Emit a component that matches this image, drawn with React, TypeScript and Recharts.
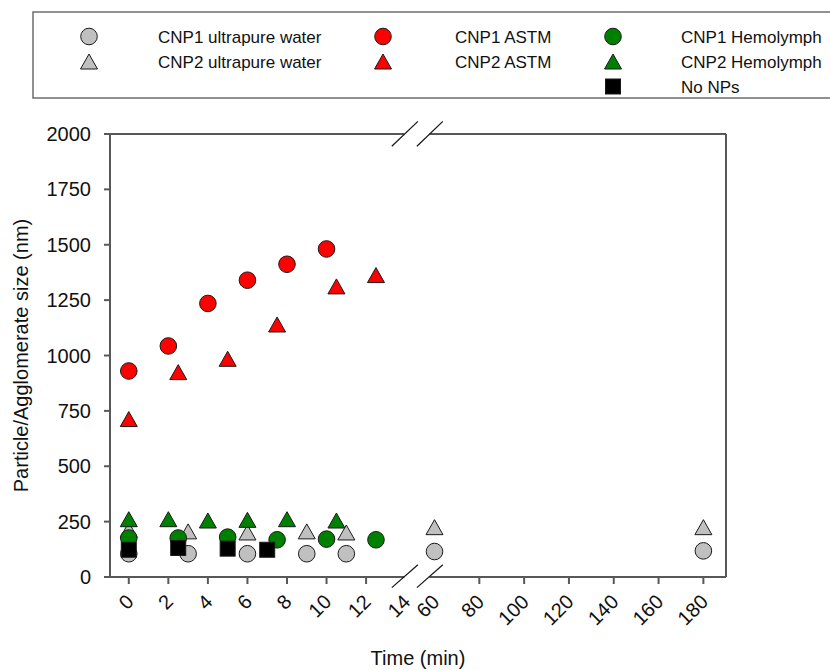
import React from 'react';
import { ScatterChart, Scatter, XAxis, YAxis, ReferenceLine, Legend, Label } from 'recharts';

// ---------- data (time in min, size in nm) ----------
const cnp1WaterTime = [0, 3, 6, 9, 11, 60, 180];
const cnp1WaterSize = [105, 105, 105, 105, 105, 115, 118];
const cnp2WaterTime = [0, 3, 6, 9, 11, 60, 180];
const cnp2WaterSize = [213, 206, 201, 206, 201, 225, 225];
const cnp1AstmTime = [0, 2, 4, 6, 8, 10];
const cnp1AstmSize = [930, 1043, 1235, 1340, 1412, 1481];
const cnp2AstmTime = [0, 2.5, 5, 7.5, 10.5, 12.5];
const cnp2AstmSize = [713, 925, 985, 1140, 1312, 1363];
const cnp1HemoTime = [0, 2.5, 5, 7.5, 10, 12.5];
const cnp1HemoSize = [176, 176, 180, 168, 171, 168];
const cnp2HemoTime = [0, 2, 4, 6, 8, 10.5];
const cnp2HemoSize = [261, 261, 255, 258, 261, 255];
const noNpsTime = [0, 2.5, 5, 7];
const noNpsSize = [123, 131, 128, 123];

const xTickLabelsLeft = [0, 2, 4, 6, 8, 10, 12, 14];
const xTickLabelsRight = [60, 80, 100, 120, 140, 160, 180];
const yTicks = [0, 250, 500, 750, 1000, 1250, 1500, 1750, 2000];

// ---------- broken axis mapping ----------
const BREAK_START = 14;
const BREAK_END = 60;
const RIGHT_OFFSET = 15.46; // virtual position of t = 60
const RIGHT_SCALE = 0.1133; // virtual units per minute on the right segment
const AXIS_MIN = -0.95;
const AXIS_MAX = 30.2;
const GAP_LEFT = 13.94;
const GAP_RIGHT = 15.2;
const toAxis = (t: number) => (t <= BREAK_START ? t : RIGHT_OFFSET + (t - BREAK_END) * RIGHT_SCALE);

const xTickLabels = [...xTickLabelsLeft, ...xTickLabelsRight];
const xTickPositions = xTickLabels.map(toAxis);

// ---------- layout ----------
const W = 830;
const H = 670;
const PLOT_LEFT = 110;
const PLOT_RIGHT = 726;
const PLOT_TOP = 134;
const PLOT_BOTTOM = 577;
const LEGEND_H = 100;
const FONT = '"Liberation Sans", Arial, Helvetica, sans-serif';
const AXIS_COLOR = '#585858';
const TEXT_COLOR = '#111';

type ShapeKind = 'circle' | 'triangle' | 'square';

const toPoints = (times: number[], sizes: number[]) =>
  times.map((t, i) => ({ x: toAxis(t), y: sizes[i] }));

const series = [
  { name: 'CNP1 ultrapure water', fill: '#c0c0c0', shape: 'circle' as ShapeKind, times: cnp1WaterTime, sizes: cnp1WaterSize, col: 0, row: 0 },
  { name: 'CNP2 ultrapure water', fill: '#c0c0c0', shape: 'triangle' as ShapeKind, times: cnp2WaterTime, sizes: cnp2WaterSize, col: 0, row: 1 },
  { name: 'CNP1 ASTM', fill: '#ff0000', shape: 'circle' as ShapeKind, times: cnp1AstmTime, sizes: cnp1AstmSize, col: 1, row: 0 },
  { name: 'CNP2 ASTM', fill: '#ff0000', shape: 'triangle' as ShapeKind, times: cnp2AstmTime, sizes: cnp2AstmSize, col: 1, row: 1 },
  { name: 'CNP1 Hemolymph', fill: '#008000', shape: 'circle' as ShapeKind, times: cnp1HemoTime, sizes: cnp1HemoSize, col: 2, row: 0 },
  { name: 'CNP2 Hemolymph', fill: '#008000', shape: 'triangle' as ShapeKind, times: cnp2HemoTime, sizes: cnp2HemoSize, col: 2, row: 1 },
  { name: 'No NPs', fill: '#000000', shape: 'square' as ShapeKind, times: noNpsTime, sizes: noNpsSize, col: 2, row: 2 },
];

const LEGEND_MARKER_X = [89, 383, 613];
const LEGEND_TEXT_X = [158, 455, 681];
const LEGEND_ROW_Y = [36.5, 61.5, 86.5];

function Marker({ cx, cy, shape, fill }: { cx: number; cy: number; shape: ShapeKind; fill: string }) {
  const stroke = '#1a1a1a';
  if (shape === 'circle') {
    return <circle cx={cx} cy={cy} r={8.3} fill={fill} stroke={stroke} strokeWidth={1} />;
  }
  if (shape === 'triangle') {
    const s = 17;
    const h = 15;
    const pts = `${cx},${cy - h / 2} ${cx + s / 2},${cy + h / 2} ${cx - s / 2},${cy + h / 2}`;
    return <polygon points={pts} fill={fill} stroke={stroke} strokeWidth={1} strokeLinejoin="miter" />;
  }
  return <rect x={cx - 7.5} y={cy - 7.5} width={15} height={15} fill={fill} stroke={stroke} strokeWidth={1} />;
}

const TimeTick = (props: any) => {
  const { x, payload } = props;
  const i = xTickPositions.findIndex((v) => Math.abs(v - payload.value) < 1e-6);
  const label = xTickLabels[i];
  const showLine = label !== BREAK_START && label !== BREAK_END;
  const ax = x + 6;
  const ay = PLOT_BOTTOM + 26;
  return (
    <g>
      {showLine && (
        <line x1={x} x2={x} y1={PLOT_BOTTOM} y2={PLOT_BOTTOM + 7} stroke={AXIS_COLOR} strokeWidth={2} />
      )}
      <text
        x={ax}
        y={ay}
        transform={`rotate(-45 ${ax} ${ay})`}
        textAnchor="end"
        fontSize={20}
        fontFamily={FONT}
        fill={TEXT_COLOR}
      >
        {label}
      </text>
    </g>
  );
};

const LegendContent = () => (
  <svg width={W} height={LEGEND_H} style={{ display: 'block' }}>
    <rect x={33} y={12} width={810} height={86} fill="#fff" stroke="#6e6e6e" strokeWidth={1.5} />
    {series.map((s) => (
      <g key={s.name}>
        <Marker cx={LEGEND_MARKER_X[s.col]} cy={LEGEND_ROW_Y[s.row]} shape={s.shape} fill={s.fill} />
        <text
          x={LEGEND_TEXT_X[s.col]}
          y={LEGEND_ROW_Y[s.row] + 6}
          fontSize={17}
          fontFamily={FONT}
          fill={TEXT_COLOR}
        >
          {s.name}
        </text>
      </g>
    ))}
  </svg>
);

const frameProps = { stroke: AXIS_COLOR, strokeWidth: 2, ifOverflow: 'visible' as const };
const slashProps = { stroke: '#1a1a1a', strokeWidth: 1.3, ifOverflow: 'visible' as const };

export default function App() {
  return (
    <div style={{ position: 'absolute', left: 0, top: 0, width: W, height: H, background: '#fff' }}>
      <ScatterChart
        width={W}
        height={H}
        margin={{ top: PLOT_TOP - LEGEND_H, right: W - PLOT_RIGHT, bottom: 0, left: 0 }}
      >
        <XAxis
          type="number"
          dataKey="x"
          domain={[AXIS_MIN, AXIS_MAX]}
          ticks={xTickPositions}
          interval={0}
          allowDataOverflow
          axisLine={false}
          tickLine={false}
          tick={<TimeTick />}
          height={H - PLOT_BOTTOM}
        >
          <Label
            content={() => (
              <text
                x={(PLOT_LEFT + PLOT_RIGHT) / 2}
                y={665}
                textAnchor="middle"
                fontSize={20}
                fontFamily={FONT}
                fill={TEXT_COLOR}
              >
                Time (min)
              </text>
            )}
          />
        </XAxis>
        <YAxis
          type="number"
          dataKey="y"
          domain={[0, 2000]}
          ticks={yTicks}
          interval={0}
          width={PLOT_LEFT}
          tickSize={6}
          tickMargin={13}
          axisLine={{ stroke: AXIS_COLOR, strokeWidth: 2 }}
          tickLine={{ stroke: AXIS_COLOR, strokeWidth: 2 }}
          tick={{ fontSize: 20, fill: TEXT_COLOR, fontFamily: FONT }}
        >
          <Label
            content={() => (
              <text
                x={27.5}
                y={(PLOT_TOP + PLOT_BOTTOM) / 2}
                transform={`rotate(-90 27.5 ${(PLOT_TOP + PLOT_BOTTOM) / 2})`}
                textAnchor="middle"
                fontSize={20}
                fontFamily={FONT}
                fill={TEXT_COLOR}
              >
                Particle/Agglomerate size (nm)
              </text>
            )}
          />
        </YAxis>
        <Legend
          verticalAlign="top"
          content={<LegendContent />}
          wrapperStyle={{ position: 'absolute', top: 0, left: 0, width: W, height: LEGEND_H }}
        />

        {/* frame with axis break */}
        <ReferenceLine segment={[{ x: AXIS_MIN, y: 0 }, { x: GAP_LEFT, y: 0 }]} {...frameProps} />
        <ReferenceLine segment={[{ x: GAP_RIGHT, y: 0 }, { x: AXIS_MAX, y: 0 }]} {...frameProps} />
        <ReferenceLine segment={[{ x: AXIS_MIN, y: 2000 }, { x: GAP_LEFT, y: 2000 }]} {...frameProps} />
        <ReferenceLine segment={[{ x: GAP_RIGHT, y: 2000 }, { x: AXIS_MAX, y: 2000 }]} {...frameProps} />
        <ReferenceLine segment={[{ x: AXIS_MAX, y: 0 }, { x: AXIS_MAX, y: 2000 }]} {...frameProps} />

        {/* break slashes */}
        <ReferenceLine segment={[{ x: 13.3, y: 1945 }, { x: 14.62, y: 2057 }]} {...slashProps} />
        <ReferenceLine segment={[{ x: 14.57, y: 1945 }, { x: 15.88, y: 2057 }]} {...slashProps} />
        <ReferenceLine segment={[{ x: 13.3, y: -48 }, { x: 14.62, y: 55 }]} {...slashProps} />
        <ReferenceLine segment={[{ x: 14.57, y: -48 }, { x: 15.88, y: 55 }]} {...slashProps} />

        {series.map((s) => (
          <Scatter
            key={s.name}
            name={s.name}
            data={toPoints(s.times, s.sizes)}
            dataKey="y"
            isAnimationActive={false}
            shape={(p: any) => <Marker cx={p.cx} cy={p.cy} shape={s.shape} fill={s.fill} />}
          />
        ))}
      </ScatterChart>
    </div>
  );
}
